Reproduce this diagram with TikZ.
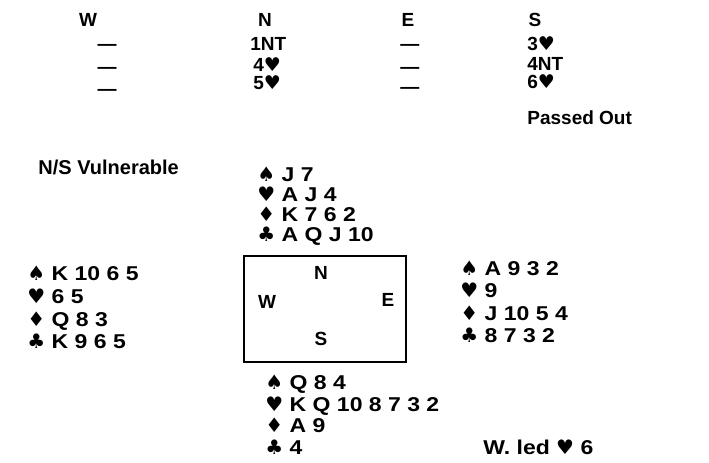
\documentclass[tikz,border=0pt]{standalone}
\usepackage{fontspec}
\setmainfont{Liberation Sans}
\newfontfamily\cardfont{Liberation Sans}[FakeStretch=1.15]
\newfontfamily\suitfont{DejaVu Sans}
\usetikzlibrary{positioning}

\newcommand{\spd}{{\suitfont\char"2660}}
\newcommand{\hrt}{{\suitfont\char"2665}}
\newcommand{\dmd}{{\suitfont\char"2666}}
\newcommand{\clb}{{\suitfont\char"2663}}

\begin{document}
\begin{tikzpicture}[x=0.5pt, y=-0.5pt,
  lbl/.style={inner sep=0pt, font=\bfseries\fontsize{9.5}{11}\selectfont},
  row/.style={lbl, anchor=west},
  pass/.style={lbl, anchor=center},
  card/.style={row, font=\cardfont\bfseries\fontsize{10}{12}\selectfont, text height=7pt, text depth=0pt},
  table/.style={draw, thick, inner sep=0pt, minimum width=81pt, minimum height=53pt}
]
\useasboundingbox (0,0) rectangle (709,462);

% auction
\node[lbl] (hw) at (88,20) {W};
\node[lbl] (hn) at (265,20) {N};
\node[lbl] (he) at (408,20) {E};
\node[lbl] (hs) at (535,20) {S};

\node[pass] (w1) at (107,47) {—};
\node[pass] (w2) at (107,70) {—};
\node[pass] (w3) at (107,92) {—};
\node[row] (n1) at (250,44) {1NT};
\node[row] (n2) at (253,65) {4\hrt};
\node[row] (n3) at (253,83) {5\hrt};
\node[pass] (e1) at (410,47) {—};
\node[pass] (e2) at (410,70) {—};
\node[pass] (e3) at (410,90) {—};
\node[row] (s1) at (527,44) {3\hrt};
\node[row] (s2) at (527,64) {4NT};
\node[row] (s3) at (527,82) {6\hrt};
\node[row] (passout) at (527,118) {Passed Out};

\node[row, font=\bfseries\fontsize{10}{12}\selectfont] (vul) at (38,167) {N/S Vulnerable};

% north
\node[card] (north1) at (257,174) {\spd\ J 7};
\node[card] (north2) at (257,194) {\hrt\ A J 4};
\node[card] (north3) at (257,214) {\dmd\ K 7 6 2};
\node[card] (north4) at (257,234) {\clb\ A Q J 10};

% table
\node[table] (tbl) at (325,309) {};
\node[lbl] (tn) at (321,273) {N};
\node[lbl] (tw) at (267,302) {W};
\node[lbl] (te) at (388,300) {E};
\node[lbl] (ts) at (321,339) {S};

% west
\node[card] (west1) at (27,273) {\spd\ K 10 6 5};
\node[card] (west2) at (27,296) {\hrt\ 6 5};
\node[card] (west3) at (27,319) {\dmd\ Q 8 3};
\node[card] (west4) at (27,341) {\clb\ K 9 6 5};

% east
\node[card] (east1) at (460,268) {\spd\ A 9 3 2};
\node[card] (east2) at (460,290) {\hrt\ 9};
\node[card] (east3) at (460,313) {\dmd\ J 10 5 4};
\node[card] (east4) at (460,335) {\clb\ 8 7 3 2};

% south
\node[card] (south1) at (265,382) {\spd\ Q 8 4};
\node[card] (south2) at (265,404) {\hrt\ K Q 10 8 7 3 2};
\node[card] (south3) at (265,425) {\dmd\ A 9};
\node[card] (south4) at (265,447) {\clb\ 4};

\node[card] (lead) at (483,447) {W. led \hrt\ 6};
\end{tikzpicture}
\end{document}
